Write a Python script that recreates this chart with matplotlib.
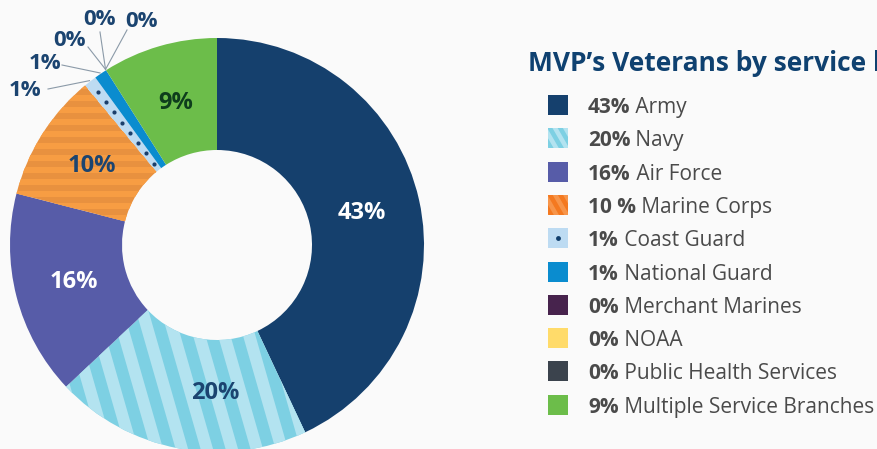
import numpy as np
import matplotlib
matplotlib.use("Agg")
from matplotlib import pyplot as plt
from matplotlib.patches import Polygon, Rectangle

# data
categories = ['Army', 'Navy', 'Air Force', 'Marine Corps', 'Coast Guard',
              'National Guard', 'Merchant Marines', 'NOAA',
              'Public Health Services', 'Multiple Service Branches']
values = [43, 20, 16, 10, 1, 1, 0, 0, 0, 9]
legend_pct = ['43%', '20%', '16%', '10 %', '1%', '1%', '0%', '0%', '0%', '9%']
wedge_pct = ['43%', '20%', '16%', '10%', '1%', '1%', '0%', '0%', '0%', '9%']

colors = ['#15406d', '#7dd0e3', '#575ca8', '#e8913f', '#bddbf2',
          '#0a8ccf', '#47234d', '#ffdb6a', '#3b434d', '#6cbd4a']
label_colors = {0: 'white', 1: '#1b4470', 2: 'white', 3: '#1b4470', 9: '#0e3d1c'}

W, H = 878, 449
BG = '#fafafa'
plt.rcParams['font.family'] = ['Open Sans', 'DejaVu Sans']


def Y(y):
    return H - y


fig = plt.figure(figsize=(W / 100, H / 100), dpi=100, facecolor=BG)
ax = fig.add_axes([0, 0, 1, 1])
ax.set_facecolor(BG)

cx, cy, R, r_in = 217, Y(245), 207, 95
wedges, _ = ax.pie(values, colors=colors, startangle=90, counterclock=False,
                   center=(cx, cy), radius=R,
                   wedgeprops=dict(width=R - r_in, linewidth=0))
ax.set_xlim(0, W)
ax.set_ylim(0, H)
ax.set_aspect('equal')
ax.axis('off')


def stripes(clip, x0, y0, angle, period, color, span=500):
    # bands of half the period, clipped to a patch
    d = np.array([np.cos(np.radians(angle)), np.sin(np.radians(angle))])
    n = np.array([-d[1], d[0]])
    c = np.array([x0, y0])
    for k in range(-int(span / period), int(span / period) + 1):
        a = c + n * k * period
        b = a + n * period / 2
        pts = [a - d * span, a + d * span, b + d * span, b - d * span]
        p = Polygon(pts, closed=True, facecolor=color, linewidth=0)
        ax.add_patch(p)
        p.set_clip_path(clip)


# navy diagonal stripes, marine corps horizontal stripes
stripes(wedges[1], cx, cy, -74, 24, '#b3e3f0')
stripes(wedges[3], cx, cy, 0, 12, '#f79d43')

# angles of each wedge
cum = np.concatenate([[0], np.cumsum(values)]) / sum(values)
mid = 90 - 360 * (cum[:-1] + cum[1:]) / 2

# coast guard dots
a = np.radians(mid[4])
for rr in np.arange(r_in + 8, R - 4, 13):
    ax.plot(cx + rr * np.cos(a), cy + rr * np.sin(a), 'o', ms=3,
            color='#1b3f6b', mec='none')

# labels inside the ring
shift = {1: 10}
rm = (R + r_in) / 2 - 3
for i in [0, 1, 2, 3, 9]:
    a = np.radians(mid[i] + shift.get(i, 0))
    ax.text(cx + rm * np.cos(a), cy + rm * np.sin(a), wedge_pct[i],
            ha='center', va='center', fontsize=17, fontweight='bold',
            color=label_colors[i])

# small slices with leader lines
leader_text = {4: (25, 90), 5: (45, 63), 6: (70, 40), 7: (100, 19), 8: (142, 21)}
leader_start = {4: (48, 89), 5: (62, 65), 6: (88, 47), 7: (100, 32), 8: (127, 30)}
for i, (tx, ty) in leader_text.items():
    a = np.radians(mid[i])
    ex, ey = cx + (R + 1) * np.cos(a), cy + (R + 1) * np.sin(a)
    sx, sy = leader_start[i]
    ax.plot([sx, ex], [Y(sy), ey], color='#8b9aa8', lw=0.8)
    ax.text(tx, Y(ty), wedge_pct[i], ha='center', va='center', fontsize=16,
            fontweight='bold', color='#1b4470')

# title (cut at the right edge as in the original)
ax.text(528, Y(63), 'MVP\u2019s Veterans by service branch', ha='left',
        va='center', fontsize=19, fontweight='bold', color='#0f4170')

# legend
lx, ly0, step, sw = 548, 105, 33.3, 20
for i, name in enumerate(categories):
    yc = ly0 + i * step
    sq = Rectangle((lx, Y(yc) - sw / 2), sw, sw, facecolor=colors[i], linewidth=0)
    ax.add_patch(sq)
    if i == 1:
        sq.set_facecolor('#7dd0e3')
        stripes(sq, lx, Y(yc), -60, 9, '#b3e3f0', span=40)
    elif i == 3:
        sq.set_facecolor('#f47920')
        stripes(sq, lx, Y(yc), -60, 9, '#f7954a', span=40)
    elif i == 4:
        ax.plot(lx + sw / 2, Y(yc), 'o', ms=3.5, color='#0f3d6b', mec='none')
    t = ax.text(588, Y(yc), legend_pct[i], ha='left', va='center_baseline',
                fontsize=15, fontweight='bold', color='#4a4a4a')
    ax.annotate(' ' + name, xy=(1, 0), xycoords=t, xytext=(0, 0),
                textcoords='offset points', ha='left', va='bottom',
                fontsize=15, color='#4a4a4a')

fig.savefig('out.png', dpi=100, facecolor=BG)
